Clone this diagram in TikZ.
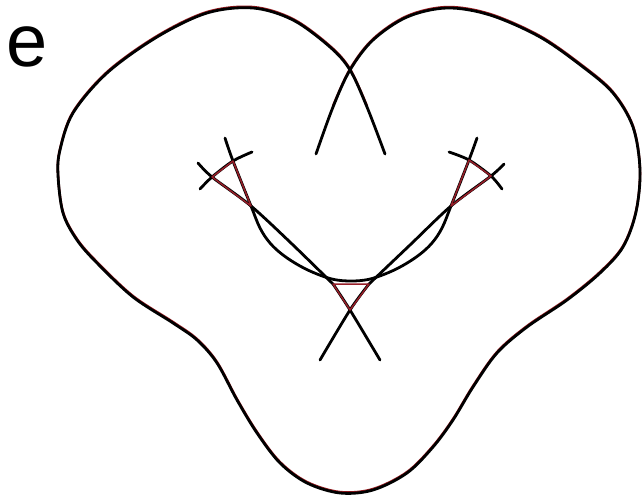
\documentclass[tikz,border=0pt]{standalone}
\usepackage{fontspec}
\setmainfont{Liberation Sans}
\definecolor{fringe}{RGB}{150,25,30}
\definecolor{edgered}{RGB}{150,30,40}
\begin{document}
\begin{tikzpicture}[x=1pt,y=-1pt,
  wave/.style={line width=2.8pt, line cap=round, line join=round, black},
  redline/.style={line width=1.5pt, line cap=round, line join=round, edgered},
  fringeline/.style={line width=2.4pt, fringe, transform canvas={yshift=1pt}}]
\useasboundingbox (0,0) rectangle (642,497);
\fill[white] (0,0) rectangle (642,497);
\node[font=\fontsize{74}{74}\selectfont, inner sep=0pt] (lbl) at (27,47) {e};
% triangle vertices
\coordinate (A) at (212,177);
\coordinate (B) at (233,161);
\coordinate (C) at (251,206);
\coordinate (Ar) at (491,176);
\coordinate (Br) at (469,160);
\coordinate (Cr) at (451,206);
\coordinate (D) at (333,284);
\coordinate (E) at (369,284);
\coordinate (F) at (350,310);
% outer wavefront
\draw[fringeline] plot[smooth, tension=0.55] coordinates {(367,107) (350,70) (330,47) (293,20) (253,8) (207,13) (157,37) (107,73) (73,113) (60,150) (58,175) (63,213) (77,240) (97,263) (133,297) (173,323) (197,340) (217,363) (237,400) (257,433) (280,463) (307,483) (340,493) (373,490) (407,473) (433,447) (453,420) (473,387) (497,353) (527,327) (567,300) (600,273) (623,247) (636,212) (640,170) (633,127) (613,93) (583,67) (540,37) (490,15) (447,8) (407,17) (373,40) (350,70) (333,107)};
\draw[wave] plot[smooth, tension=0.55] coordinates {(385,154) (367,107) (350,70) (330,47) (293,20) (253,8) (207,13) (157,37) (107,73) (73,113) (60,150) (58,175) (63,213) (77,240) (97,263) (133,297) (173,323) (197,340) (217,363) (237,400) (257,433) (280,463) (307,483) (340,493) (373,490) (407,473) (433,447) (453,420) (473,387) (497,353) (527,327) (567,300) (600,273) (623,247) (636,212) (640,170) (633,127) (613,93) (583,67) (540,37) (490,15) (447,8) (407,17) (373,40) (350,70) (333,107) (316,154)};
% short crossing pieces
\draw[wave] plot[smooth] coordinates {(200,189) (A) (B) (252,152)};
\draw[wave] plot[smooth] coordinates {(502,189) (Ar) (Br) (449,152)};
% the long inner arc
\draw[wave] plot[smooth, tension=0.6] coordinates {(225,138) (B) (C) (260,228) (270,243) (283,255) (300,266) (317,274) (334,279.5) (351,281) (368,279.5) (385,274) (402,266) (419,255) (432,243) (442,228) (Cr) (Br) (477,138)};
% straight-ish lines through the lens and bottom crossing
\draw[wave] plot[smooth, tension=0.5] coordinates {(198,163) (A) (C) (292,244) (D)};
\draw[wave] plot[smooth, tension=0.5] coordinates {(D) (F) (380,360)};
\draw[wave] plot[smooth, tension=0.5] coordinates {(504,164) (Ar) (Cr) (410,245) (E)};
\draw[wave] plot[smooth, tension=0.5] coordinates {(E) (F) (320,360)};
% red triangles
\draw[redline] (A) -- (B) -- (C) -- cycle;
\draw[redline] (Ar) -- (Br) -- (Cr) -- cycle;
\draw[redline] (D) -- (E) -- (F) -- cycle;
\end{tikzpicture}
\end{document}
